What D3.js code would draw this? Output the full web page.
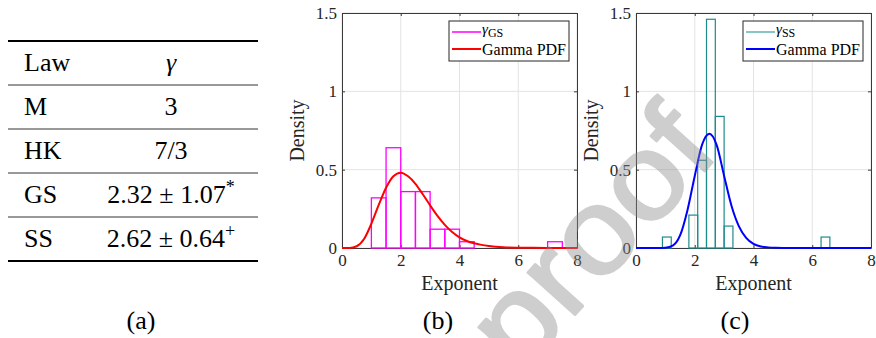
<!DOCTYPE html>
<html><head><meta charset="utf-8">
<script src="https://cdn.jsdelivr.net/npm/d3@7/dist/d3.min.js"></script>
<style>body{margin:0;background:#fff}svg{display:block}</style>
</head><body><svg id="chart" width="876" height="338"></svg>
<script>
// ---------- data ----------
const tableHeader = ["Law", "\u03b3"];
const laws = ["M", "HK", "GS", "SS"];
const gammaValues = ["3", "7/3", "2.32 \u00b1 1.07", "2.62 \u00b1 0.64"];
const gammaMarks = ["", "", "*", "+"];
const panelLabels = ["(a)", "(b)", "(c)"];

const xTicks = [0, 2, 4, 6, 8];
const yTicks = [0, 0.5, 1, 1.5];
const yTickLabels = ["0", "0.5", "1", "1.5"];

// histogram of gamma_GS (density)
const binLoGS = [1.0, 1.5, 2.0, 2.5, 3.0, 3.5, 4.0, 4.5, 5.0, 5.5, 6.0, 6.5, 7.0];
const binHiGS = [1.5, 2.0, 2.5, 3.0, 3.5, 4.0, 4.5, 5.0, 5.5, 6.0, 6.5, 7.0, 7.5];
const densGS  = [0.32, 0.64, 0.36, 0.36, 0.12, 0.12, 0.04, 0, 0, 0, 0, 0, 0.04];

// histogram of gamma_SS (density)
const binLoSS = [0.9, 1.2, 1.5, 1.8, 2.1, 2.4, 2.7, 3.0, 3.3, 3.6, 3.9, 4.2, 4.5, 4.8, 5.1, 5.4, 5.7, 6.0, 6.3];
const binHiSS = [1.2, 1.5, 1.8, 2.1, 2.4, 2.7, 3.0, 3.3, 3.6, 3.9, 4.2, 4.5, 4.8, 5.1, 5.4, 5.7, 6.0, 6.3, 6.6];
const densSS  = [0.07, 0, 0, 0.21, 0.56, 1.46, 0.84, 0.14, 0, 0, 0, 0, 0, 0, 0, 0, 0, 0, 0.07];

// fitted Gamma PDF curves
const pdfX   = [0, 0.25, 0.5, 0.75, 1, 1.25, 1.5, 1.75, 2, 2.25, 2.5, 2.75, 3, 3.25, 3.5, 3.75, 4, 4.25, 4.5, 4.75, 5, 5.5, 6, 6.5, 7, 7.5, 8];
const pdfGS  = [0, 0.0004, 0.011, 0.057, 0.155, 0.275, 0.385, 0.458, 0.481, 0.458, 0.41, 0.343, 0.272, 0.205, 0.148, 0.102, 0.068, 0.045, 0.03, 0.02, 0.013, 0.005, 0.002, 0.001, 0.0003, 0.0001, 0];
const pdfSS  = [0, 0, 0, 0, 0.002, 0.015, 0.08, 0.24, 0.46, 0.66, 0.73, 0.655, 0.46, 0.27, 0.14, 0.065, 0.027, 0.01, 0.004, 0.001, 0, 0, 0, 0, 0, 0, 0];

const seriesNames = ["GS", "SS"];
const legendPdf = "Gamma PDF";
const watermarkText = "proof";

// ---------- drawing ----------
const svg = d3.select("#chart");
const SERIF = "'Liberation Serif', 'Times New Roman', serif";

// ---- table (a) ----
const tbl = svg.append("g");
const tL = 8, tR = 258, rowTop = 41, rowH = 44, colA = 24, colB = 171;
const nRows = laws.length + 1;
tbl.append("line").attr("x1", tL).attr("x2", tR).attr("y1", rowTop).attr("y2", rowTop)
  .attr("stroke", "#000").attr("stroke-width", 2);
for (let i = 1; i < nRows; i++) {
  tbl.append("line").attr("x1", tL).attr("x2", tR).attr("y1", rowTop + i * rowH).attr("y2", rowTop + i * rowH)
    .attr("stroke", "#333").attr("stroke-width", 1);
}
tbl.append("line").attr("x1", tL).attr("x2", tR).attr("y1", rowTop + nRows * rowH).attr("y2", rowTop + nRows * rowH)
  .attr("stroke", "#000").attr("stroke-width", 2);

tbl.append("text").attr("x", colA).attr("y", rowTop + 30).attr("font-family", SERIF).attr("font-size", 26).text(tableHeader[0]);
tbl.append("text").attr("x", colB).attr("y", rowTop + 30).attr("text-anchor", "middle").attr("font-family", SERIF)
  .attr("font-style", "italic").attr("font-size", 26).text(tableHeader[1]);
laws.forEach((law, i) => {
  const yb = rowTop + (i + 1) * rowH + 30;
  tbl.append("text").attr("x", colA).attr("y", yb).attr("font-family", SERIF).attr("font-size", 26).text(law);
  const t = tbl.append("text").attr("x", colB).attr("y", yb).attr("text-anchor", "middle")
    .attr("font-family", SERIF).attr("font-size", 26);
  t.append("tspan").text(gammaValues[i]);
  if (gammaMarks[i]) t.append("tspan").attr("dy", -10).attr("font-size", 18).text(gammaMarks[i]);
});

// ---- panels (b), (c) ----
function drawPanel(cfg) {
  const g = svg.append("g");
  const x = d3.scaleLinear().domain([0, 8]).range([cfg.left, cfg.right]);
  const y = d3.scaleLinear().domain([0, 1.5]).range([cfg.bottom, cfg.top]);
  const clipId = "clip" + cfg.id;
  svg.append("clipPath").attr("id", clipId).append("rect")
    .attr("x", cfg.left).attr("y", cfg.top - 2).attr("width", cfg.right - cfg.left).attr("height", cfg.bottom - cfg.top + 3);

  // grid
  g.append("g").selectAll("line").data(xTicks).join("line")
    .attr("x1", d => x(d)).attr("x2", d => x(d)).attr("y1", cfg.top).attr("y2", cfg.bottom)
    .attr("stroke", "#e3e3e3").attr("stroke-width", 1);
  g.append("g").selectAll("line").data(yTicks).join("line")
    .attr("x1", cfg.left).attr("x2", cfg.right).attr("y1", d => y(d)).attr("y2", d => y(d))
    .attr("stroke", "#e3e3e3").attr("stroke-width", 1);

  // axes with inward ticks
  const axCol = "#3a3a3a";
  const styleAxis = sel => {
    sel.selectAll("path.domain").attr("stroke", axCol).attr("stroke-width", 1);
    sel.selectAll(".tick line").attr("stroke", axCol);
    sel.selectAll("text").attr("font-family", SERIF).attr("font-size", 17).attr("fill", "#262626");
  };
  g.append("g").attr("transform", `translate(0,${cfg.bottom})`)
    .call(d3.axisBottom(x).tickValues(xTicks).tickFormat(d3.format("d")).tickSizeInner(-3).tickSizeOuter(0).tickPadding(6))
    .call(styleAxis);
  g.append("g").attr("transform", `translate(0,${cfg.top})`)
    .call(d3.axisTop(x).tickValues(xTicks).tickFormat("").tickSizeInner(-3).tickSizeOuter(0))
    .call(styleAxis);
  g.append("g").attr("transform", `translate(${cfg.left},0)`)
    .call(d3.axisLeft(y).tickValues(yTicks).tickFormat((d, i) => yTickLabels[i]).tickSizeInner(-3).tickSizeOuter(0).tickPadding(5))
    .call(styleAxis);
  g.append("g").attr("transform", `translate(${cfg.right},0)`)
    .call(d3.axisRight(y).tickValues(yTicks).tickFormat("").tickSizeInner(-3).tickSizeOuter(0))
    .call(styleAxis);
  g.selectAll(".domain").attr("fill", "none");

  // histogram bars
  const bins = cfg.lo.map((lo, i) => ({ lo, hi: cfg.hi[i], d: cfg.dens[i] }));
  g.append("g").attr("clip-path", `url(#${clipId})`).selectAll("rect").data(bins).join("rect")
    .attr("x", d => x(d.lo)).attr("width", d => x(d.hi) - x(d.lo))
    .attr("y", d => y(d.d)).attr("height", d => y(0) - y(d.d))
    .attr("fill", "none").attr("stroke", cfg.barColor).attr("stroke-width", cfg.barWidth);

  // pdf curve
  const pts = pdfX.map((v, i) => [v, cfg.pdf[i]]);
  g.append("path").datum(pts).attr("clip-path", `url(#${clipId})`)
    .attr("d", d3.line().x(d => x(d[0])).y(d => y(d[1])).curve(d3.curveMonotoneX))
    .attr("fill", "none").attr("stroke", cfg.lineColor).attr("stroke-width", 2);

  // axis labels
  g.append("text").attr("x", (cfg.left + cfg.right) / 2).attr("y", 290).attr("text-anchor", "middle")
    .attr("font-family", SERIF).attr("font-size", 20).attr("fill", "#262626").text("Exponent");
  g.append("text").attr("transform", `translate(${cfg.left - 38},${(cfg.top + cfg.bottom) / 2}) rotate(-90)`)
    .attr("text-anchor", "middle").attr("font-family", SERIF).attr("font-size", 20).attr("fill", "#262626").text("Density");

  // legend
  const lg = g.append("g");
  const box = lg.append("rect").attr("fill", "#fff").attr("stroke", "#262626").attr("stroke-width", 1);
  const t1 = lg.append("text").attr("font-family", SERIF).attr("font-size", 15).attr("fill", "#000");
  t1.append("tspan").attr("font-style", "italic").text("\u03b3");
  t1.append("tspan").attr("dy", 3).attr("font-size", 12).text(cfg.name);
  const t2 = lg.append("text").attr("font-family", SERIF).attr("font-size", 16).attr("fill", "#000").text(legendPdf);
  const tw = Math.max(t1.node().getComputedTextLength(), t2.node().getComputedTextLength());
  const w = 33 + tw + 3, h = 40;
  const x0 = cfg.right - 8 - w, y0 = cfg.top + 8;
  box.attr("x", x0).attr("y", y0).attr("width", w).attr("height", h);
  lg.append("line").attr("x1", x0 + 3).attr("x2", x0 + 32).attr("y1", y0 + 11).attr("y2", y0 + 11)
    .attr("stroke", cfg.legendBarColor).attr("stroke-width", 1.5);
  lg.append("line").attr("x1", x0 + 3).attr("x2", x0 + 32).attr("y1", y0 + 28).attr("y2", y0 + 28)
    .attr("stroke", cfg.lineColor).attr("stroke-width", 2);
  t1.attr("x", x0 + 33).attr("y", y0 + 13);
  t2.attr("x", x0 + 33).attr("y", y0 + 34);
}

drawPanel({ id: "b", left: 342, right: 577, top: 13, bottom: 248, lo: binLoGS, hi: binHiGS, dens: densGS,
  pdf: pdfGS, barColor: "#ff00ff", barWidth: 1.3, legendBarColor: "#ff00ff", lineColor: "#ff0000", name: seriesNames[0] });
drawPanel({ id: "c", left: 636, right: 871, top: 13, bottom: 248, lo: binLoSS, hi: binHiSS, dens: densSS,
  pdf: pdfSS, barColor: "#1f8c8c", barWidth: 1.2, legendBarColor: "#5fb3b3", lineColor: "#0000ff", name: seriesNames[1] });

// panel labels
const labelX = [141, 438, 735];
panelLabels.forEach((l, i) => {
  svg.append("text").attr("x", labelX[i]).attr("y", 329).attr("text-anchor", "middle")
    .attr("font-family", SERIF).attr("font-size", 26).text(l);
});

// watermark
svg.append("text").attr("transform", "translate(520,376) rotate(-48) scale(1.1,1)")
  .attr("font-family", "'Liberation Sans', Arial, sans-serif").attr("font-size", 120)
  .attr("fill", "#8c8c8c").attr("stroke", "#8c8c8c").attr("stroke-width", 2.5).attr("stroke-linejoin", "round")
  .attr("opacity", 0.42)
  .text(watermarkText);
</script></body></html>
